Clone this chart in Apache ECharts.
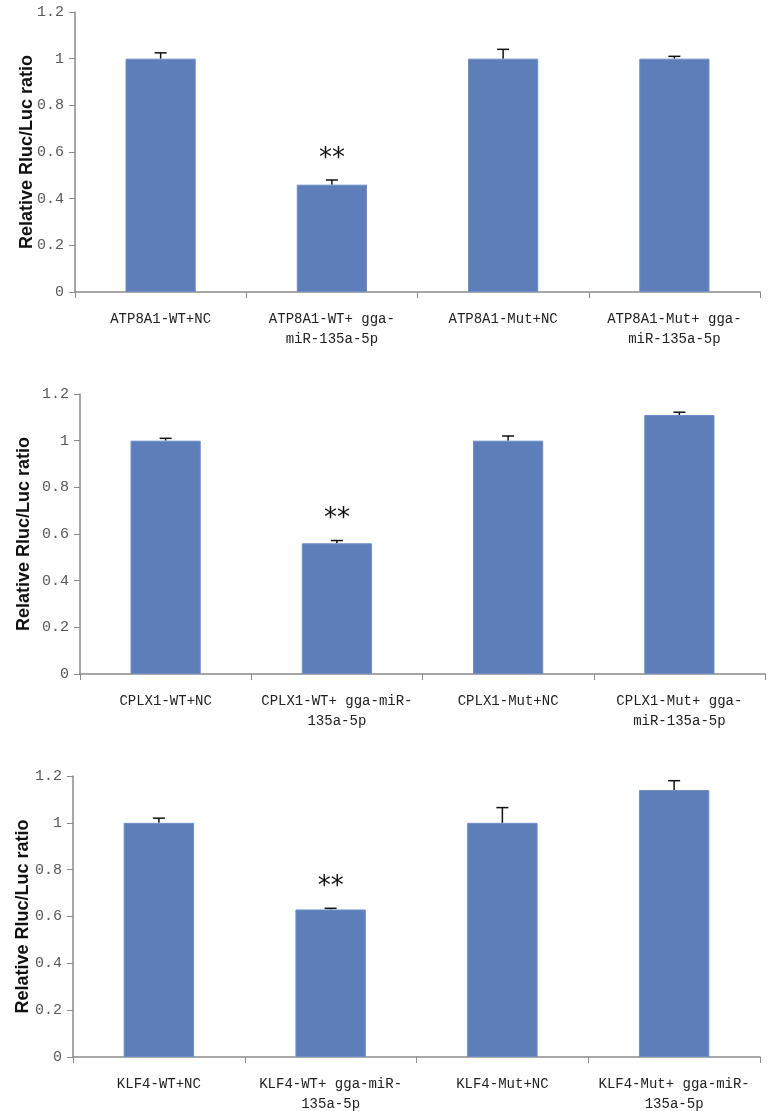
<!DOCTYPE html>
<html>
<head>
<meta charset="utf-8">
<script src="https://cdn.jsdelivr.net/npm/echarts@6/dist/echarts.min.js"></script>
<style>
html,body{margin:0;padding:0;background:#fff;}
#chart{width:771px;height:1111px;}
</style>
</head>
<body>
<div id="chart"></div>
<script>
// ---- data ----
const categoriesATP8A1 = ['ATP8A1-WT+NC', 'ATP8A1-WT+ gga-\nmiR-135a-5p', 'ATP8A1-Mut+NC', 'ATP8A1-Mut+ gga-\nmiR-135a-5p'];
const valuesATP8A1 = [1.0, 0.46, 1.0, 1.0];
const errorsATP8A1 = [0.025, 0.02, 0.04, 0.01];
const signifATP8A1 = ['', '**', '', ''];

const categoriesCPLX1 = ['CPLX1-WT+NC', 'CPLX1-WT+ gga-miR-\n135a-5p', 'CPLX1-Mut+NC', 'CPLX1-Mut+ gga-\nmiR-135a-5p'];
const valuesCPLX1 = [1.0, 0.56, 1.0, 1.11];
const errorsCPLX1 = [0.01, 0.012, 0.02, 0.012];
const signifCPLX1 = ['', '**', '', ''];

const categoriesKLF4 = ['KLF4-WT+NC', 'KLF4-WT+ gga-miR-\n135a-5p', 'KLF4-Mut+NC', 'KLF4-Mut+ gga-miR-\n135a-5p'];
const valuesKLF4 = [1.0, 0.63, 1.0, 1.14];
const errorsKLF4 = [0.02, 0.005, 0.065, 0.04];
const signifKLF4 = ['', '**', '', ''];

const yTicks = { min: 0, max: 1.2, interval: 0.2 };
const yAxisName = 'Relative Rluc/Luc ratio';

// ---- layout ----
const panels = [
  { cats: categoriesATP8A1, vals: valuesATP8A1, errs: errorsATP8A1, sig: signifATP8A1, left: 75, top: 12, width: 685, height: 280, nameGap: 39 },
  { cats: categoriesCPLX1, vals: valuesCPLX1, errs: errorsCPLX1, sig: signifCPLX1, left: 80, top: 394, width: 685, height: 280, nameGap: 47 },
  { cats: categoriesKLF4, vals: valuesKLF4, errs: errorsKLF4, sig: signifKLF4, left: 73, top: 776, width: 687, height: 281, nameGap: 41 }
];

const axisColor = '#8a8a8a';
const barColor = '#5d7eb9';

const grid = [], xAxis = [], yAxis = [], series = [];
panels.forEach((p, i) => {
  grid.push({ left: p.left, top: p.top, width: p.width, height: p.height, containLabel: false, outerBoundsMode: 'none' });
  xAxis.push({
    type: 'category', gridIndex: i, data: p.cats, boundaryGap: true,
    axisLine: { lineStyle: { color: axisColor, width: 1.5 } },
    axisTick: { show: true, length: 6, lineStyle: { color: axisColor } },
    axisLabel: { interval: 0, margin: 17, color: '#222', fontFamily: 'Liberation Mono', fontSize: 14, lineHeight: 20, align: 'center' }
  });
  yAxis.push({
    type: 'value', gridIndex: i, min: yTicks.min, max: yTicks.max, interval: yTicks.interval,
    name: yAxisName, nameLocation: 'middle', nameGap: p.nameGap, nameRotate: 90, nameMoveOverlap: false,
    nameTextStyle: { fontFamily: 'Liberation Sans', fontWeight: 'bold', fontSize: 18, color: '#111' },
    axisLine: { show: true, lineStyle: { color: axisColor, width: 1.5 } },
    axisTick: { show: true, length: 6, lineStyle: { color: axisColor } },
    splitLine: { show: false },
    axisLabel: { margin: 11, color: '#595959', fontFamily: 'Liberation Mono', fontSize: 15,
      formatter: v => (Math.round(v * 10) / 10).toString() }
  });
  series.push({
    type: 'bar', xAxisIndex: i, yAxisIndex: i, data: p.vals, barWidth: '41%',
    itemStyle: { color: barColor, borderColor: '#6f8ec6', borderWidth: 1 },
    silent: true, animation: false
  });
  series.push({
    type: 'custom', xAxisIndex: i, yAxisIndex: i, animation: false, silent: true,
    data: p.vals.map((v, k) => [k, v, p.errs[k]]),
    encode: { x: 0, y: 1 },
    renderItem: (params, api) => {
      const k = api.value(0), v = api.value(1), e = api.value(2);
      const base = api.coord([k, v]);
      const top = api.coord([k, v + e]);
      const half = 6;
      const children = [
        { type: 'line', shape: { x1: base[0], y1: base[1], x2: top[0], y2: top[1] }, style: { stroke: '#111', lineWidth: 1.5 } },
        { type: 'line', shape: { x1: top[0] - half, y1: top[1], x2: top[0] + half, y2: top[1] }, style: { stroke: '#111', lineWidth: 1.5 } }
      ];
      const s = p.sig[k];
      if (s) {
        children.push({ type: 'text', style: { text: s, x: top[0], y: top[1] - 21, align: 'center', verticalAlign: 'middle', fontSize: 26, fontFamily: 'DejaVu Sans', fill: '#111' } });
      }
      return { type: 'group', children };
    }
  });
});

const chart = echarts.init(document.getElementById('chart'), null, { renderer: 'canvas' });
chart.setOption({ animation: false, grid, xAxis, yAxis, series });
</script>
</body>
</html>
